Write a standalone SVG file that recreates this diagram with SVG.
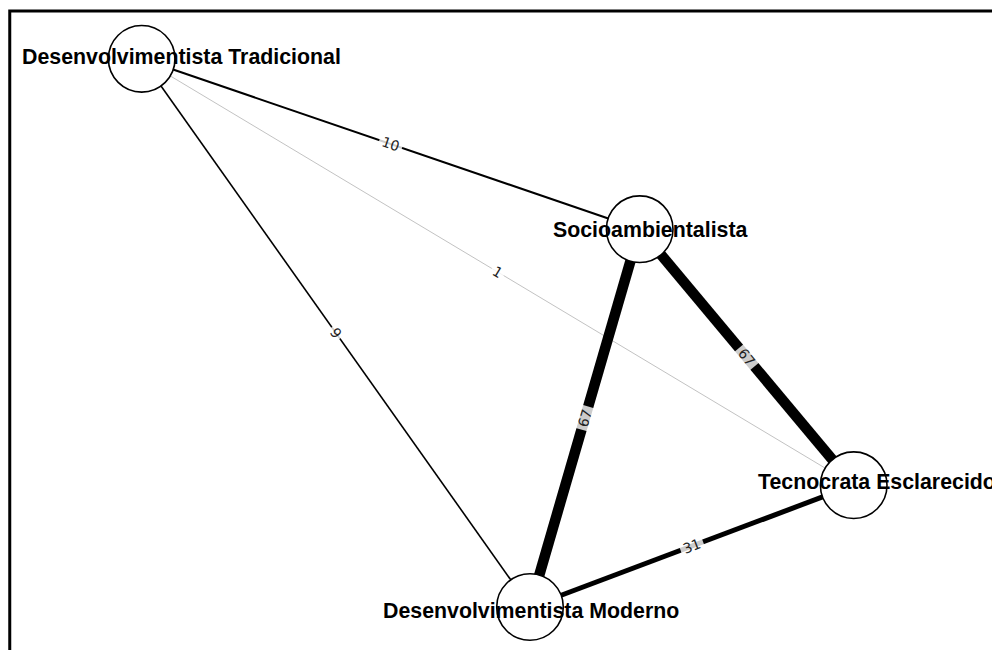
<svg xmlns="http://www.w3.org/2000/svg" width="992" height="650" viewBox="0 0 992 650">
<style>
.edge{stroke:#000;fill:none;stroke-linecap:butt}
.node circle{fill:#fff;stroke:#000;stroke-width:1.6}
.node text{font-family:"Liberation Sans",Arial,sans-serif;font-weight:bold;font-size:21.33px;fill:#000}
.elab rect{fill:#fff;fill-opacity:0.8}
.elab text{font-family:"DejaVu Sans","Liberation Sans",sans-serif;font-size:14px;fill:#222;text-anchor:middle}
</style>
<rect x="0" y="0" width="992" height="650" fill="#fff"/>
<rect x="9.75" y="11" width="1000" height="660" fill="none" stroke="#000" stroke-width="3"/>
<g id="connectors">
  <line id="e-trad-socio" class="edge" x1="141.7" y1="58.8" x2="639.7" y2="229.2" stroke-width="2"/>
  <line id="e-trad-tecno" class="edge" x1="141.7" y1="58.8" x2="853.7" y2="485.2" stroke-width="0.9" style="stroke:#bbb"/>
  <line id="e-trad-mod" class="edge" x1="141.7" y1="58.8" x2="530" y2="607" stroke-width="1.6"/>
  <line id="e-socio-tecno" class="edge" x1="639.7" y1="229.2" x2="853.7" y2="485.2" stroke-width="10.5"/>
  <line id="e-socio-mod" class="edge" x1="639.7" y1="229.2" x2="530" y2="607" stroke-width="10.5"/>
  <line id="e-mod-tecno" class="edge" x1="530" y1="607" x2="853.7" y2="485.2" stroke-width="5"/>
  <g class="elab" transform="translate(390.7,144) rotate(18.89)"><rect x="-12" y="-7" width="24" height="14"/><text y="5">10</text></g>
  <g class="elab" transform="translate(497.7,272) rotate(30.92)"><rect x="-7" y="-7" width="14" height="14"/><text y="5">1</text></g>
  <g class="elab" transform="translate(335.85,332.9) rotate(54.69)"><rect x="-7" y="-7" width="14" height="14"/><text y="5">9</text></g>
  <g class="elab" transform="translate(746.7,357.2) rotate(50.1)"><rect x="-12" y="-7" width="24" height="14"/><text y="5">67</text></g>
  <g class="elab" transform="translate(584.85,418.1) rotate(-73.81)"><rect x="-12" y="-7" width="24" height="14"/><text y="5">67</text></g>
  <g class="elab" transform="translate(691.85,546.1) rotate(-20.62)"><rect x="-12" y="-7" width="24" height="14"/><text y="5">31</text></g>
</g>
<g id="node-trad" class="node">
  <circle cx="141.7" cy="58.8" r="33.3"/>
  <text x="22" y="64">Desenvolvimentista Tradicional</text>
</g>
<g id="node-socio" class="node">
  <circle cx="639.7" cy="229.2" r="33.3"/>
  <text x="553" y="237.3">Socioambientalista</text>
</g>
<g id="node-tecno" class="node">
  <circle cx="853.7" cy="485.2" r="33.3"/>
  <text x="758" y="489.3">Tecnocrata Esclarecido</text>
</g>
<g id="node-mod" class="node">
  <circle cx="530" cy="607" r="33.3"/>
  <text x="383" y="618">Desenvolvimentista Moderno</text>
</g>
</svg>
